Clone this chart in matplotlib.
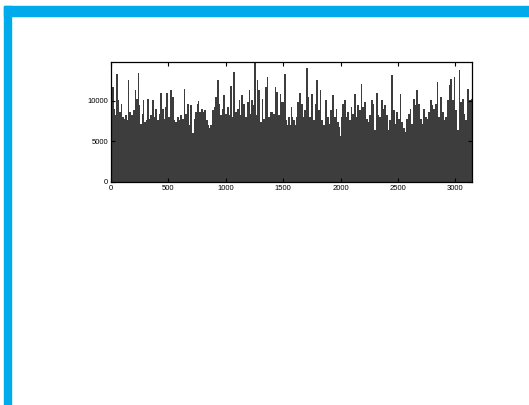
import numpy as np
import matplotlib
matplotlib.use('Agg')
import matplotlib.pyplot as plt
from matplotlib.patches import Rectangle

# bar positions and heights
xs = [0, 23, 35, 46, 58, 73, 84, 96, 110, 125, 136, 148, 160, 174, 189, 206, 218, 232,
      244, 255, 267, 278, 290, 302, 313, 328, 342, 357, 371, 386, 400, 415, 429, 444,
      458, 470, 481, 496, 516, 531, 545, 560, 574, 589, 603, 618, 632, 647, 661, 676,
      690, 705, 719, 734, 748, 760, 771, 783, 798, 812, 826, 841, 853, 864, 879, 893,
      908, 922, 937, 951, 966, 980, 995, 1009, 1024, 1038, 1053, 1067, 1082, 1096, 1111,
      1122, 1134, 1146, 1154, 1169, 1183, 1198, 1209, 1218, 1235, 1250, 1262, 1270, 1285,
      1299, 1314, 1328, 1343, 1357, 1368, 1382, 1397, 1412, 1426, 1441, 1456, 1471, 1485,
      1506, 1521, 1532, 1544, 1556, 1568, 1579, 1588, 1603, 1615, 1623, 1641, 1656, 1671,
      1685, 1697, 1712, 1726, 1741, 1756, 1773, 1788, 1803, 1818, 1832, 1847, 1868, 1882,
      1897, 1912, 1926, 1941, 1956, 1970, 1985, 1994, 2000, 2015, 2029, 2044, 2059, 2073,
      2088, 2103, 2117, 2132, 2147, 2162, 2176, 2191, 2206, 2220, 2235, 2250, 2264, 2279,
      2294, 2309, 2323, 2338, 2353, 2367, 2382, 2397, 2412, 2426, 2441, 2456, 2470, 2485,
      2500, 2515, 2529, 2544, 2559, 2573, 2588, 2603, 2617, 2632, 2647, 2661, 2676, 2691,
      2706, 2720, 2735, 2750, 2764, 2779, 2794, 2808, 2823, 2838, 2853, 2867, 2882, 2897,
      2911, 2926, 2941, 2955, 2970, 2985, 3000, 3014, 3029, 3044, 3058, 3073, 3088, 3102,
      3117, 3132]
heights = [11700, 9060, 8240, 13360, 10080, 8650, 9670, 8030, 7830, 8240, 7620, 12620,
           8650, 8240, 8850, 11310, 10290, 13440, 9470, 7210, 8440, 10080, 7420, 7620,
           10200, 7830, 8240, 10160, 8030, 9060, 7620, 8440, 10980, 9060, 7830, 9260,
           10980, 8030, 11310, 10490, 7620, 7420, 8030, 7620, 8240, 7830, 11520, 8440,
           9670, 7010, 9470, 6000, 7830, 8650, 9670, 9960, 8650, 9060, 8650, 8850, 7620,
           7010, 6600, 7010, 8850, 9260, 10490, 12540, 9670, 8240, 9060, 10700, 8440, 9260,
           8240, 11800, 8030, 13570, 8650, 9060, 10080, 8240, 10700, 8440, 9670, 8030,
           9880, 11310, 8440, 10080, 9470, 14800, 8240, 12540, 11310, 7420, 10290, 7830,
           11720, 12950, 8030, 8650, 8650, 8440, 11720, 11110, 8240, 10900, 9880, 13360,
           7620, 7010, 8030, 7010, 9260, 8030, 7620, 7010, 8030, 9880, 10980, 9670, 8030,
           8850, 14100, 10490, 8030, 10900, 7620, 9670, 12620, 8850, 11310, 7620, 7010,
           10080, 8030, 7210, 8850, 10700, 8030, 9060, 7420, 6800, 5660, 8030, 9670, 10080,
           8030, 8650, 7620, 9260, 8440, 10900, 8030, 9470, 8850, 12050, 9260, 9880, 7830,
           7420, 8240, 10080, 9670, 6390, 11020, 8240, 8030, 10080, 9060, 9470, 8240, 6390,
           7620, 13160, 8850, 7210, 8650, 7830, 10900, 7420, 6600, 6190, 7830, 8440, 9060,
           7210, 10290, 9470, 11390, 9670, 7830, 7210, 9060, 8030, 7830, 8650, 10080, 9470,
           9060, 9670, 12340, 8030, 10490, 8650, 7620, 8030, 10080, 11930, 12750, 10080,
           12950, 8850, 6390, 13850, 9880, 10290, 8440, 7620, 11520, 10080, 10290]
x_max = 3145
xticks = [0, 500, 1000, 1500, 2000, 2500, 3000]
yticks = [0, 5000, 10000]

plt.rcParams['font.family'] = ['Liberation Sans', 'DejaVu Sans']

fig = plt.figure(figsize=(5.29, 4.05), dpi=100)

# blue frame along the top and left edge
blue = '#00aaeb'
fig.patches.append(Rectangle((4 / 529, 1 - 16 / 405), 1, 10 / 405,
                             transform=fig.transFigure, color=blue, zorder=0))
fig.patches.append(Rectangle((4 / 529, 0), 7 / 529, 1 - 6 / 405,
                             transform=fig.transFigure, color=blue, zorder=0))

ax = fig.add_axes([111 / 529, 1 - 182 / 405, 361 / 529, 120 / 405])
widths = np.diff(xs + [x_max])
ax.bar(xs, heights, width=widths, align='edge', color='#3d3d3d', linewidth=0)

ax.set_xlim(0, x_max)
ax.set_ylim(0, 14800)
ax.set_xticks(xticks)
ax.set_yticks(yticks)
ax.tick_params(direction='in', top=True, right=True, length=3, width=0.8,
               labelsize=5.5, pad=2)
for s in ax.spines.values():
    s.set_linewidth(0.9)

fig.savefig('out.png', dpi=100)
